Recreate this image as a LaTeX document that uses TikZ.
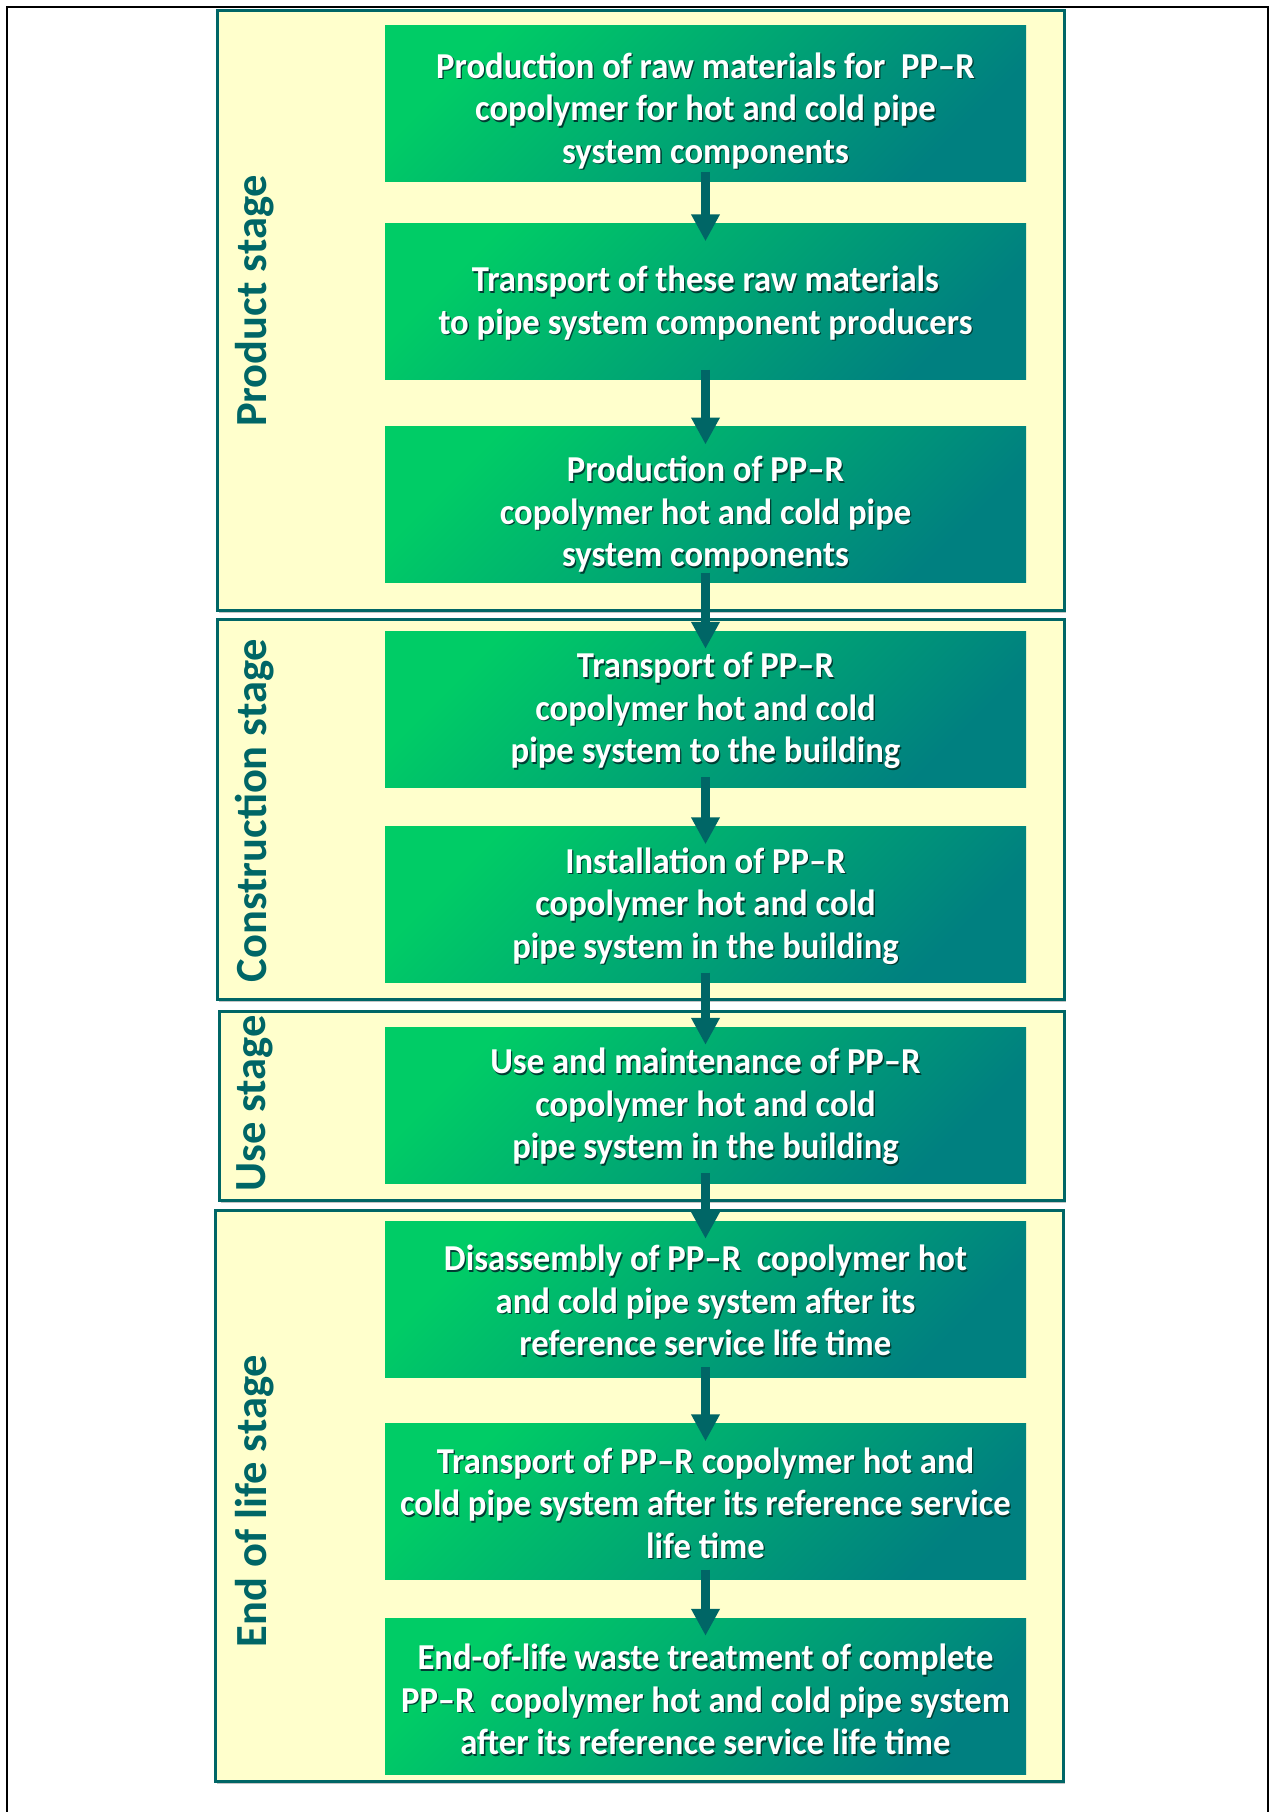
\documentclass[tikz,border=0pt]{standalone}
\usepackage{fontspec}
\setmainfont{Carlito}
\newfontfamily\boxfont{Carlito}[FakeStretch=0.95]
\usetikzlibrary{arrows.meta,shadows}
\definecolor{tealc}{RGB}{0,102,102}
\definecolor{stagefill}{RGB}{255,255,204}
\definecolor{gtop}{RGB}{0,204,102}
\definecolor{gbot}{RGB}{0,128,128}
\definecolor{shd}{RGB}{0,60,50}
\newcommand\sline[1]{\leavevmode\rlap{\kern1.3pt\raisebox{-1.6pt}{\color{shd}#1}}#1}
\newcommand\tsup[1]{\rule{0pt}{#1pt}}
\begin{document}
\begin{tikzpicture}[x=1pt,y=-1pt,
  stagebox/.style={draw=tealc, line width=3pt, fill=stagefill, inner sep=0pt,
    drop shadow={shadow xshift=1.5pt, shadow yshift=-2.5pt, fill=black!45, opacity=0.5}},
  stagelabel/.style={rotate=90, text=tealc, inner sep=0pt,
    font=\fontsize{44.5}{50}\selectfont\bfseries},
  procbox/.style={top color=gtop, bottom color=gbot, shading angle=45,
    minimum width=641pt, minimum height=156pt, inner sep=0pt, align=center,
    text=white, font=\boxfont\fontsize{36.5}{42.5}\selectfont\bfseries},
  flow/.style={draw=tealc, line width=9pt, -{Triangle[width=27pt,length=27pt]}}]
\useasboundingbox (0,0) rectangle (1271,1812);
\fill[white] (0,0) rectangle (1271,1812);
\draw[line width=2.2pt] (7,1812) -- (7,7) -- (1268,7) -- (1268,1812);

% stage frames
\node[stagebox, minimum width=847pt, minimum height=600pt] (s1) at (640.5,310) {};
\node[stagebox, minimum width=847pt, minimum height=380.5pt] (s2) at (640.5,809.25) {};
\node[stagebox, minimum width=844.5pt, minimum height=189.6pt] (s3) at (641.75,1105.8) {};
\node[stagebox, minimum width=848pt, minimum height=571pt] (s4) at (639,1495.5) {};

% stage labels
\node[stagelabel] (l1) at (255,301) {Product stage};
\node[stagelabel] (l2) at (255,810.6) {Construction stage};
\node[stagelabel] (l3) at (255,1103.5) {Use stage};
\node[stagelabel] (l4) at (255,1501) {End of life stage};

% process boxes
\node[procbox] (b1) at (705.5,103.4) {\tsup{42}\sline{Production of raw materials for~ PP–R}\\\sline{copolymer for hot and cold pipe}\\\sline{system components}};
\node[procbox] (b2) at (705.5,301.5) {\tsup{30}\sline{Transport of these raw materials}\\\sline{to pipe system component producers}};
\node[procbox] (b3) at (705.5,504.7) {\tsup{46}\sline{Production of PP–R}\\\sline{copolymer hot and cold pipe}\\\sline{system components}};
\node[procbox] (b4) at (705.5,709) {\tsup{30}\sline{Transport of PP–R}\\\sline{copolymer hot and cold}\\\sline{pipe system to the building}};
\node[procbox] (b5) at (705.5,904.5) {\tsup{30}\sline{Installation of PP–R}\\\sline{copolymer hot and cold}\\\sline{pipe system in the building}};
\node[procbox] (b6) at (705.5,1105) {\tsup{30}\sline{Use and maintenance of PP–R}\\\sline{copolymer hot and cold}\\\sline{pipe system in the building}};
\node[procbox] (b7) at (705.5,1299) {\tsup{30}\sline{Disassembly of PP–R~ copolymer hot}\\\sline{and cold pipe system after its}\\\sline{reference service life time}};
\node[procbox] (b8) at (705.5,1501.5) {\tsup{30}\sline{Transport of PP–R copolymer hot and}\\\sline{cold pipe system after its reference service}\\\sline{life time}};
\node[procbox] (b9) at (705.5,1696) {\tsup{34}\sline{End-of-life waste treatment of complete}\\\sline{PP–R~ copolymer hot and cold pipe system}\\\sline{after its reference service life time}};

% arrows
\foreach \a/\b in {b1/b2,b2/b3,b3/b4,b4/b5,b5/b6,b6/b7,b7/b8,b8/b9}
  \draw[flow] ([yshift=10pt]\a.south) -- ([yshift=-18pt]\b.north);
\end{tikzpicture}
\end{document}
